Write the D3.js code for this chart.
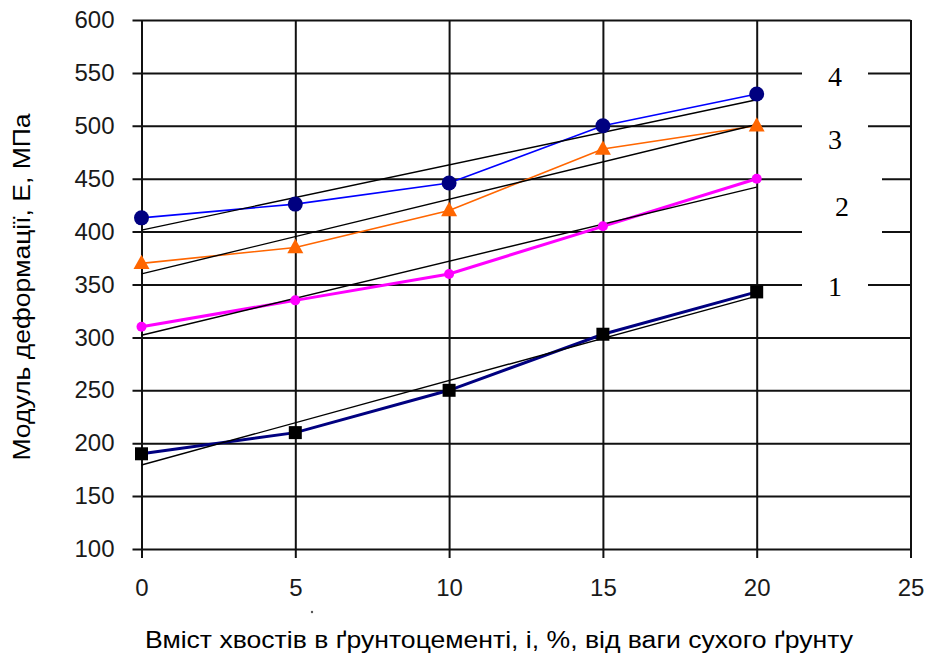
<!DOCTYPE html>
<html>
<head>
<meta charset="utf-8">
<script src="https://cdn.jsdelivr.net/npm/d3@7"></script>
<style>
  html, body { margin: 0; padding: 0; background: #fff; }
  svg { display: block; }
</style>
</head>
<body>
<svg id="chart" width="925" height="657"></svg>
<script>
// Tailings content in soil-cement, % of dry soil mass
const xValues = [0, 5, 10, 15, 20];

// Deformation modulus E, MPa, for each curve
const series1 = [190, 210, 250, 303, 343];
const series2 = [310, 335, 360, 405, 450];
const series3 = [370, 385, 420, 478, 500];
const series4 = [413, 426, 446, 500, 530];

const curveLabels = ["1", "2", "3", "4"];

const xTicks = [0, 5, 10, 15, 20, 25];
const yTicks = [100, 150, 200, 250, 300, 350, 400, 450, 500, 550, 600];

const xTitle = "Вміст хвостів в ґрунтоцементі, і, %, від ваги сухого ґрунту";
const yTitle = "Модуль деформації, Е, МПа";

const svg = d3.select("#chart");

const plotLeft = 141.5, plotRight = 910.5, plotTop = 20, plotBottom = 549;
const x = d3.scaleLinear().domain([0, 25]).range([plotLeft, plotRight]);
const y = d3.scaleLinear().domain([100, 600]).range([plotBottom, plotTop]);

const sansFont = "'Liberation Sans', Arial, sans-serif";

// Grid + y axis: ticks run from the right border across to just past the left axis
const yAxis = svg.append("g")
  .attr("transform", `translate(${plotRight},0)`)
  .call(d3.axisLeft(y).tickValues(yTicks).tickSize(plotRight - plotLeft + 9).tickPadding(18));
yAxis.select(".domain").remove();
yAxis.selectAll(".tick line").attr("stroke", "#111").attr("stroke-width", 2);
yAxis.selectAll(".tick text")
  .attr("fill", "#1a1a1a")
  .style("font-family", sansFont)
  .style("font-size", "24px");

// Grid + x axis: vertical lines from the top edge down past the bottom axis
const xAxis = svg.append("g")
  .attr("transform", `translate(0,${plotTop})`)
  .call(d3.axisBottom(x).tickValues(xTicks).tickSize(plotBottom - plotTop + 9).tickPadding(21));
xAxis.select(".domain").remove();
xAxis.selectAll(".tick line").attr("stroke", "#111").attr("stroke-width", 2);
xAxis.selectAll(".tick text")
  .attr("fill", "#1a1a1a")
  .style("font-family", sansFont)
  .style("font-size", "24px");

// Curve definitions
const curves = [
  { values: series1, line: "#000080", width: 3, marker: "square", fill: "#000000", size: 13 },
  { values: series2, line: "#ff00ff", width: 3, marker: "circle", fill: "#ff00ff", size: 5 },
  { values: series3, line: "#ff6600", width: 1.6, marker: "triangle", fill: "#ff6600", size: 16 },
  { values: series4, line: "#0000ff", width: 1.6, marker: "circle", fill: "#000080", size: 7.5 }
];

const lineGen = d3.line()
  .x((d, i) => x(xValues[i]))
  .y(d => y(d));

// Least-squares linear trend for each curve
function trend(values) {
  const mx = d3.mean(xValues), my = d3.mean(values);
  let sxy = 0, sxx = 0;
  xValues.forEach((xv, i) => { sxy += (xv - mx) * (values[i] - my); sxx += (xv - mx) ** 2; });
  const b = sxy / sxx, a = my - b * mx;
  const x0 = d3.min(xValues), x1 = d3.max(xValues);
  return [[x0, a + b * x0], [x1, a + b * x1]];
}

// Data lines
curves.forEach(c => {
  svg.append("path")
    .datum(c.values)
    .attr("d", lineGen)
    .attr("fill", "none")
    .attr("stroke", c.line)
    .attr("stroke-width", c.width);
});

// Trend lines
curves.forEach(c => {
  const t = trend(c.values);
  svg.append("line")
    .attr("x1", x(t[0][0])).attr("y1", y(t[0][1]))
    .attr("x2", x(t[1][0])).attr("y2", y(t[1][1]))
    .attr("stroke", "#000")
    .attr("stroke-width", 1.4);
});

// Markers
curves.forEach(c => {
  const g = svg.append("g");
  c.values.forEach((v, i) => {
    const cx = x(xValues[i]), cy = y(v);
    if (c.marker === "square") {
      g.append("rect")
        .attr("x", cx - c.size / 2).attr("y", cy - c.size / 2)
        .attr("width", c.size).attr("height", c.size)
        .attr("fill", c.fill);
    } else if (c.marker === "circle") {
      g.append("circle")
        .attr("cx", cx).attr("cy", cy).attr("r", c.size)
        .attr("fill", c.fill);
    } else {
      const s = c.size, h = s * 0.9;
      g.append("path")
        .attr("d", `M${cx},${cy - h * 0.6}L${cx + s / 2},${cy + h * 0.4}L${cx - s / 2},${cy + h * 0.4}Z`)
        .attr("fill", c.fill);
    }
  });
});

// Curve number labels on white patches at the right
const labelSpots = [
  { text: curveLabels[3], bx: 802, bw: 66, by0: 555, by1: 545, cx: 835, cy: 76 },
  { text: curveLabels[2], bx: 802, bw: 66, by0: 505, by1: 494, cx: 835, cy: 139 },
  { text: curveLabels[1], bx: 802, bw: 80, by0: 457, by1: 393, cx: 842, cy: 206 },
  { text: curveLabels[0], bx: 802, bw: 66, by0: 357, by1: 343, cx: 835, cy: 286 }
];
labelSpots.forEach(L => {
  svg.append("rect")
    .attr("x", L.bx)
    .attr("y", y(L.by0))
    .attr("width", L.bw)
    .attr("height", y(L.by1) - y(L.by0))
    .attr("fill", "#fff");
  svg.append("text")
    .attr("x", L.cx)
    .attr("y", L.cy)
    .attr("text-anchor", "middle")
    .attr("dominant-baseline", "central")
    .style("font-family", "'Liberation Serif', 'Times New Roman', serif")
    .style("font-size", "28px")
    .attr("fill", "#000")
    .text(L.text);
});

// Axis titles
svg.append("text")
  .attr("x", 499)
  .attr("y", 648)
  .attr("text-anchor", "middle")
  .attr("textLength", 708)
  .attr("lengthAdjust", "spacingAndGlyphs")
  .style("font-family", sansFont)
  .style("font-size", "23px")
  .attr("fill", "#000")
  .text(xTitle);

svg.append("text")
  .attr("transform", "translate(30,287) rotate(-90)")
  .attr("text-anchor", "middle")
  .attr("textLength", 347)
  .attr("lengthAdjust", "spacingAndGlyphs")
  .style("font-family", sansFont)
  .style("font-size", "23px")
  .attr("fill", "#000")
  .text(yTitle);

// small stray dot below the axis
svg.append("circle").attr("cx", 312).attr("cy", 612).attr("r", 1.2).attr("fill", "#555");
</script>
</body>
</html>
